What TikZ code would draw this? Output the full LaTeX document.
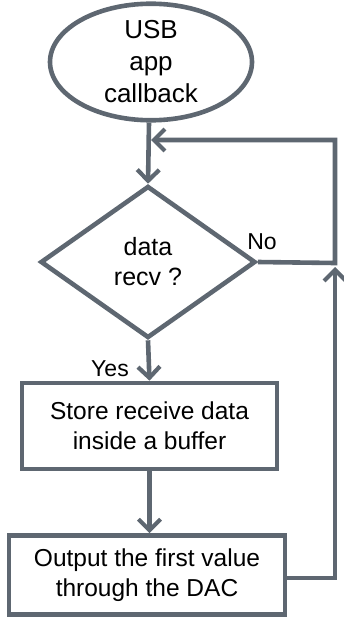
\documentclass[tikz,border=0pt]{standalone}
\usepackage{fontspec}
\setmainfont{Liberation Sans}
\usetikzlibrary{shapes.geometric,arrows.meta}
\definecolor{flowline}{HTML}{5E6771}
\begin{document}
\begin{tikzpicture}[x=1pt,y=-1pt,
  lineclr/.style={draw=flowline,line width=4.6pt},
  conn/.style={lineclr,line join=miter},
  arr/.style={conn,-{Straight Barb[length=11pt,width=22pt,line width=4.2pt]}},
  txt/.style={font=\fontsize{24.5}{30}\selectfont,align=center,text=black},
  stepbox/.style={lineclr,rectangle,inner sep=0pt,txt},
  lbl/.style={inner sep=0pt,font=\fontsize{23}{26}\selectfont,text=black}]
\useasboundingbox (0,0) rectangle (344,618);
\node[lineclr,ellipse,minimum width=202pt,minimum height=102pt,inner sep=0pt,
  txt,font=\fontsize{26}{32}\selectfont] (start) at (151,62) {USB\\app\\callback};
\node[lineclr,diamond,minimum width=215pt,minimum height=152pt,inner sep=0pt,
  aspect=1.414,txt,font=\fontsize{25}{30}\selectfont] (dec) at (148,262) {data\\recv ?};
\node[stepbox,minimum width=255pt,minimum height=86pt] (store) at (149.5,426) {Store receive data\\inside a buffer};
\node[stepbox,minimum width=276pt,minimum height=79pt] (out) at (147,575) {\raisebox{-3pt}{\begin{tabular}{@{}c@{}}Output the first value\\through the DAC\end{tabular}}};
\node[lbl] (no) at (262,242) {No};
\node[lbl] (yes) at (110,369) {Yes};
\coordinate (top) at (149,185);
\coordinate (jr) at (335,263);
\coordinate (tr) at (335,140);
\coordinate (tl) at (151,140);
\coordinate (br) at (335,578);
\coordinate (bu) at (335,267);
\draw[arr] (start.south -| top) -- (dec.north);
\draw[arr] (dec.east) -- (jr) -- (tr) -- (tl);
\draw[arr] (out.east |- br) -- (br) -- (bu);
\draw[arr] (dec.south) -- (store.north);
\draw[arr] (store.south) -- (store.south |- out.north);
\end{tikzpicture}
\end{document}
